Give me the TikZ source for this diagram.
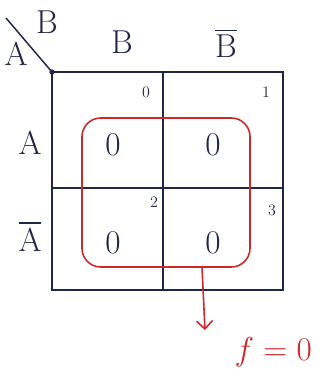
\documentclass[tikz,border=0pt]{standalone}
\usepackage{amsmath}
\usepackage{xcolor}
\usepackage{tikz}
\usetikzlibrary{arrows.meta,calc,positioning}
\definecolor{ink}{rgb}{0.13,0.15,0.28}
\definecolor{redink}{rgb}{0.80,0.16,0.18}
\tikzset{
  gridline/.style={ink,line width=1.1pt},
  varlabel/.style={ink,font=\Huge},
  cellval/.style={ink,font=\Huge},
  cellidx/.style={ink,font=\large},
}

\begin{document}
\begin{tikzpicture}[x=0.75pt,y=-0.75pt]
\useasboundingbox (0,0) rectangle (322,376);
\fill[white] (0,0) rectangle (322,376);
% map corners
\coordinate (TL) at (52,72);
\coordinate (TM) at (163,72);
\coordinate (TR) at (283,72);
\coordinate (ML) at (52,188);
\coordinate (MR) at (283,188);
\coordinate (BL) at (52,290);
\coordinate (BM) at (163,290);
\coordinate (BR) at (283,290);
\coordinate (D) at (6,18);
\draw[gridline] (TL) rectangle (BR);
\draw[gridline] (TM)--(BM);
\draw[gridline] (ML)--(MR);
\draw[gridline] (D)--(TL);
\fill[ink] (TL) circle (2pt);
% variable labels
\node[varlabel] (cornerB) at (47,22) {B};
\node[varlabel] (cornerA) at (16,54) {A};
\node[varlabel] (colB) at (122,42) {B};
\node[varlabel] (colBbar) at (226,43) {$\overline{\text{B}}$};
\node[varlabel] (rowA) at (30,143) {A};
\node[varlabel] (rowAbar) at (30,236) {$\overline{\text{A}}$};
% cell indices
\node[cellidx] (i0) at (146,92) {0};
\node[cellidx] (i1) at (266,92) {1};
\node[cellidx] (i2) at (154,202) {2};
\node[cellidx] (i3) at (272,210) {3};
% cell values
\node[cellval] (m0) at (113,145) {0};
\node[cellval] (m1) at (213,145) {0};
\node[cellval] (m2) at (113,243) {0};
\node[cellval] (m3) at (213,243) {0};
% grouping
\draw[redink,line width=1.2pt,rounded corners=14pt] (82,118) rectangle (250,267);
\coordinate (G) at (202,267);
\coordinate (E) at (205,330);
\node[redink,font=\Huge,anchor=west] (f) at (230,352) {$f=0$};
\draw[redink,line width=1.2pt,-{Straight Barb[length=6pt,width=12pt]}] (G)--(E);
\end{tikzpicture}
\end{document}
